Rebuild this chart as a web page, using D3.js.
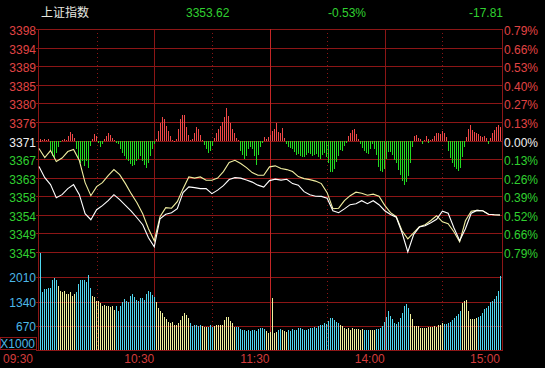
<!DOCTYPE html>
<html>
<head>
<meta charset="utf-8">
<script src="https://cdn.jsdelivr.net/npm/d3@7/dist/d3.min.js"></script>
<style>
  html, body { margin: 0; padding: 0; background: #000; }
  svg { display: block; }
  text { font-family: "Liberation Sans", Arial, "Noto Sans CJK SC", sans-serif; font-size: 12px; }
</style>
</head>
<body>
<div id="chart"></div>
<script>
// quote header
var indexName  = "上证指数";
var preClose   = 3371.43;
var lastPrice  = "3353.62";
var lastPct    = "-0.53%";
var lastChange = "-17.81";
var maxPct     = 0.79;

// axis labels
var priceLabels = ["3398", "3394", "3389", "3385", "3380", "3376", "3371", "3367", "3363", "3358", "3354", "3349", "3345"];
var pctLabels   = ["0.79%", "0.66%", "0.53%", "0.40%", "0.27%", "0.13%", "0.00%", "0.13%", "0.26%", "0.39%", "0.52%", "0.66%", "0.79%"];
var volTicks    = [2010, 1340, 670];
var volMax      = 2680;
var timeLabels  = ["09:30", "10:30", "11:30", "14:00", "15:00"];
var timeMinutes = [0, 60, 120, 180, 240];
var solidMinutes  = [60, 180];
var lunchMinute   = 120;
var dottedMinutes = [30, 90, 150, 210];

// price lines, one reading every 3 trading minutes
var lineMinutes = d3.range(0, 241, 3);

var priceWhite = [
  3365.20, 3362.56, 3360.89, 3357.77, 3358.49, 3359.93, 3360.89, 3358.49, 3353.94, 3352.50,
  3354.90, 3355.86, 3357.05, 3358.49, 3357.29, 3355.93, 3354.54, 3352.98, 3351.30, 3348.19,
  3346.03, 3352.74, 3353.82, 3354.18, 3355.14, 3358.97, 3360.34, 3360.17, 3359.93, 3359.93,
  3358.73, 3359.57, 3360.65, 3362.09, 3362.56, 3362.44, 3361.97, 3361.49, 3360.77, 3360.29,
  3361.85, 3362.21, 3361.97, 3362.16, 3361.13, 3360.77, 3359.21, 3358.49, 3358.13, 3358.08,
  3357.65, 3354.66, 3354.18, 3355.09, 3356.10, 3356.34, 3357.05, 3356.34, 3357.05, 3356.10,
  3354.66, 3353.77, 3353.10, 3349.39, 3344.83, 3348.91, 3350.75, 3351.06, 3351.78, 3352.62,
  3354.54, 3354.06, 3350.58, 3347.47, 3350.34, 3354.06, 3354.73, 3354.66, 3353.82, 3353.70,
  3353.62
];

var priceYellow = [
  3369.51, 3367.36, 3369.03, 3366.40, 3367.24, 3368.79, 3369.27, 3366.64, 3361.37, 3358.25,
  3360.41, 3361.37, 3363.04, 3364.48, 3363.28, 3361.13, 3358.73, 3356.57, 3353.94, 3350.34,
  3347.47, 3353.22, 3355.38, 3355.26, 3356.81, 3359.93, 3362.73, 3362.44, 3362.73, 3361.92,
  3361.92, 3362.44, 3364.00, 3366.16, 3366.71, 3365.92, 3364.96, 3363.76, 3363.12, 3363.12,
  3365.13, 3365.37, 3364.72, 3364.48, 3364.00, 3362.80, 3362.33, 3362.09, 3361.73, 3361.13,
  3358.97, 3355.14, 3355.26, 3357.05, 3358.25, 3359.09, 3358.85, 3358.37, 3358.61, 3358.13,
  3355.93, 3354.18, 3353.22, 3349.87, 3347.95, 3349.39, 3350.82, 3351.30, 3352.33, 3353.46,
  3352.02, 3351.54, 3349.63, 3347.23, 3352.26, 3354.54, 3354.73, 3354.66, 3353.82, 3353.70,
  3353.62
];

// red / green strength bars, one per minute (up = red)
var strength = [
    0,   2,   1,   2,   1,   2, -10, -15, -17, -12,
   -6,  -1,   1,   2,   1,   5,   9,   7,   3,  -8,
  -18, -22, -20, -25, -20, -27, -15,  -5,   2,   7,
    5,  -2,  -6,  -3,   2,   5,   8,   6,   3,   1,
   -2,  -3,  -8, -12, -15, -18, -20, -23, -25, -24,
  -20, -17, -18, -15, -20, -24, -27, -22, -15,  -8,
   -3,   2,  10,  18,  24,  22,  15,  10,   5,   1,
    0,   2,  12,  22,  26,  26,  21,  14,   6,   1,
    2,   8,  14,  12,   6,   1,  -4,  -8, -12, -10,
   -5,   3,   8,  12,  15,  19,  24,  33,  25,  18,
   12,   8,   5,   3,   1, -10, -14, -18, -15,  -8,
   -6,  -8, -15, -24, -14,  -6,  -2,   4,   2,   4,
    6,  10,  12,  18,   9,   8,  13,   9,   3,  -3,
   -6,  -7,  -8, -11, -14, -13, -15, -16, -16, -14,
  -12, -13, -15, -14, -13, -16, -18, -14, -12, -16,
  -22, -28, -31, -31, -28, -21, -15,  -9, -10,  -5,
   -2,   5,   8,  11,  12,   7,   2,  -3,  -7, -10,
  -12, -13,  -8,  -3,  -8, -14, -19, -26, -30, -31,
  -28, -18, -11, -11, -14, -19, -22, -29, -34, -40,
  -44, -41, -35, -22,  -6,   5,   6,   3,   2,  -3,
    1,   5,   2,  -2,   1,   2,   5,   8,   8,   7,
   10,   8,   4, -10, -17, -22, -26, -28, -30, -27,
  -16,  -6,   4,  12,  16,  11,   9,   8,   5,   7,
    5,   4,   5,   3,  -3,   3,   8,  11,  14,  16,
   14
];

// volume per minute, x1000
var volume = [
  1176, 2680, 1596, 1680, 1680, 1708, 1708, 1932, 1988, 1932,
  1764, 1624, 1596, 1624, 1540, 1540, 1596, 1484, 1540, 1596,
  1820, 1932, 1932, 1932, 1876, 2072, 1876, 1708, 1484, 1456,
  1344, 1344, 1288, 1204, 1232, 1204, 1204, 1176, 1204, 1092,
  1204, 1064, 1204, 1316, 1400, 1344, 1316, 1484, 1540, 1456,
  1372, 1344, 1344, 1428, 1428, 1372, 1540, 1624, 1596, 1512,
  1456, 1316, 1148, 1064, 1036,  924,  868,  784,  756,  784,
   700,  700,  756,  840,  952, 1036, 1036,  980,  896,  756,
   672,  700,  700,  672,  700,  672,  644,  644,  644,  700,
   644,  672,  700,  700,  700,  700,  840,  924,  924,  812,
   756,  644,  644,  644,  644,  588,  560,  560,  532,  560,
   532,  560,  560,  532,  588,  616,  616,  588,  532,  476,
   504, 1428,  476,  504,  560,  588,  560,  560,  532,  504,
   560,  532,  588,  560,  560,  616,  616,  588,  560,  560,
   588,  616,  616,  644,  616,  672,  700,  700,  756,  728,
   812,  868,  896,  896,  840,  784,  756,  700,  672,  616,
   588,  616,  560,  616,  588,  588,  588,  560,  588,  560,
   560,  560,  560,  560,  560,  588,  588,  560,  616,  672,
   784,  924, 1064,  952,  868,  756,  728,  784,  896, 1036,
  1204, 1260, 1148, 1008,  868,  672,  672,  672,  616,  616,
   616,  616,  616,  644,  644,  644,  672,  644,  700,  700,
   756,  728,  728,  756,  784,  840,  896,  952, 1008, 1064,
  1288, 1344, 1372, 1064,  868,  868,  868,  840,  896,  924,
   952, 1036, 1120, 1148, 1204, 1316, 1344, 1400, 1484, 1624,
  2044
];

var colors = {
  grid:     "#8c1616",
  lunch:    "#c42626",
  up:       "#e04444",
  down:     "#30d030",
  barUp:    "#f04848",
  barDown:  "#22dc22",
  flat:     "#f0f0f0",
  white:    "#ffffff",
  yellow:   "#f0eea0",
  volUp:    "#f0f09c",
  volDown:  "#50d8f0",
  volLabel: "#4cb8e8",
  time:     "#d23c3c",
  name:     "#e8e8e0"
};

var width  = 545;
var height = 368;
var plotLeft   = 38;
var plotRight  = 501.5;
var priceTop   = 29;
var priceBot   = 252;
var volTop     = 253;
var volBot     = 350;

var svg = d3.select("#chart").append("svg").attr("width", width).attr("height", height);

svg.append("rect").attr("width", width).attr("height", height).attr("fill", "#000");

var x      = d3.scaleLinear().domain([0, 240]).range([39, 500]);
var half   = preClose*maxPct/100;
var y      = d3.scaleLinear().domain([preClose - half, preClose + half]).range([priceBot, priceTop]);
var yMid   = Math.round(y(preClose));
var ys     = d3.scaleLinear().domain([-60, 60]).range([yMid + 60, yMid - 60]);
var yv     = d3.scaleLinear().domain([0, volMax]).range([volBot, volTop]);

function crisp(v) { return Math.round(v) + 0.5; }

// one pixel bars sit on even columns so thin colours survive the photo
function barX(i) { return 2*Math.round(x(i)/2); }

function labelColor(i, n)
{
  var c = (n - 1)/2;
  if (i < c) return colors.up;
  if (i > c) return colors.down;
  return colors.flat;
}

// grid
var grid = svg.append("g").attr("shape-rendering", "crispEdges");

var priceLevels = d3.range(priceLabels.length).map(function (i) { return preClose + half - i*half*2/(priceLabels.length - 1); });

grid.selectAll(".hp").data(priceLevels).enter().append("line")
  .attr("x1", plotLeft - 2).attr("x2", plotRight)
  .attr("y1", function (d) { return crisp(y(d)); })
  .attr("y2", function (d) { return crisp(y(d)); })
  .attr("stroke", colors.grid);

grid.selectAll(".hv").data(volTicks.concat([0])).enter().append("line")
  .attr("x1", plotLeft - 2).attr("x2", plotRight)
  .attr("y1", function (d) { return crisp(yv(d)); })
  .attr("y2", function (d) { return crisp(yv(d)); })
  .attr("stroke", colors.grid);

grid.selectAll(".vs").data(solidMinutes).enter().append("line")
  .attr("x1", function (d) { return crisp(x(d)); })
  .attr("x2", function (d) { return crisp(x(d)); })
  .attr("y1", priceTop).attr("y2", volBot)
  .attr("stroke", colors.grid);

grid.selectAll(".vd").data(dottedMinutes).enter().append("line")
  .attr("x1", function (d) { return crisp(x(d)); })
  .attr("x2", function (d) { return crisp(x(d)); })
  .attr("y1", priceTop).attr("y2", volBot)
  .attr("stroke", colors.grid)
  .attr("stroke-dasharray", "1,3");

grid.append("line")
  .attr("x1", crisp(plotLeft)).attr("x2", crisp(plotLeft))
  .attr("y1", priceTop).attr("y2", volBot + 1)
  .attr("stroke", colors.grid);

grid.append("line")
  .attr("x1", crisp(plotRight)).attr("x2", crisp(plotRight))
  .attr("y1", priceTop).attr("y2", volBot + 1)
  .attr("stroke", colors.grid);

grid.append("line")
  .attr("x1", crisp(x(lunchMinute))).attr("x2", crisp(x(lunchMinute)))
  .attr("y1", priceTop).attr("y2", volBot)
  .attr("stroke", colors.lunch);

// red / green strength bars
svg.append("g").attr("shape-rendering", "crispEdges")
  .selectAll("rect").data(strength).enter().append("rect")
  .attr("x", function (d, i) { return barX(i); })
  .attr("width", 1)
  .attr("y", function (d) { return Math.round(Math.min(ys(d), yMid)); })
  .attr("height", function (d) { return Math.max(1, Math.round(Math.abs(ys(d) - yMid))); })
  .attr("fill", function (d) { return d >= 0 ? colors.barUp : colors.barDown; });

// price lines
var line = d3.line()
  .x(function (d, i) { return x(lineMinutes[i]); })
  .y(function (d) { return y(d); });

svg.append("path").datum(priceYellow)
  .attr("d", line).attr("fill", "none")
  .attr("stroke", colors.yellow).attr("stroke-width", 1.1);

svg.append("path").datum(priceWhite)
  .attr("d", line).attr("fill", "none")
  .attr("stroke", colors.white).attr("stroke-width", 1.1);

// volume bars, coloured by the direction of the index line
function volColor(i)
{
  var k = Math.min(Math.ceil(i/3), priceWhite.length - 1);
  var j = Math.max(k - 1, 0);
  return priceWhite[k] >= priceWhite[j] ? colors.volUp : colors.volDown;
}

svg.append("g").attr("shape-rendering", "crispEdges")
  .selectAll("rect").data(volume).enter().append("rect")
  .attr("x", function (d, i) { return barX(i); })
  .attr("width", 1)
  .attr("y", function (d) { return Math.round(yv(d)); })
  .attr("height", function (d) { return volBot - Math.round(yv(d)); })
  .attr("fill", function (d, i) { return volColor(i); });

// left price labels
svg.selectAll(".pl").data(priceLabels).enter().append("text")
  .attr("x", 36)
  .attr("y", function (d, i) { return y(priceLevels[i]) + 6; })
  .attr("text-anchor", "end")
  .attr("fill", function (d, i) { return labelColor(i, priceLabels.length); })
  .text(function (d) { return d; });

// right percent labels
svg.selectAll(".rl").data(pctLabels).enter().append("text")
  .attr("x", 504)
  .attr("y", function (d, i) { return y(priceLevels[i]) + 6; })
  .attr("fill", function (d, i) { return labelColor(i, pctLabels.length); })
  .text(function (d) { return d; });

// volume labels
svg.selectAll(".vl").data(volTicks).enter().append("text")
  .attr("x", 36)
  .attr("y", function (d) { return yv(d) + 5; })
  .attr("text-anchor", "end")
  .attr("fill", colors.volLabel)
  .text(function (d) { return d; });

svg.append("rect")
  .attr("x", 0.5).attr("y", 337.5).attr("width", 36).attr("height", 12)
  .attr("fill", "none").attr("stroke", colors.grid);

svg.append("text")
  .attr("x", 35).attr("y", 348)
  .attr("text-anchor", "end")
  .attr("fill", colors.volLabel)
  .text("X1000");

// time labels
svg.selectAll(".tl").data(timeLabels).enter().append("text")
  .attr("x", function (d, i) { return i == 0 ? 33 : x(timeMinutes[i]); })
  .attr("y", 363)
  .attr("text-anchor", "end")
  .attr("fill", colors.time)
  .text(function (d) { return d; });

// header
svg.append("text").attr("x", 41).attr("y", 17).attr("fill", colors.name).text(indexName);
svg.append("text").attr("x", 186).attr("y", 17).attr("fill", colors.down).text(lastPrice);
svg.append("text").attr("x", 328).attr("y", 17).attr("fill", colors.down).text(lastPct);
svg.append("text").attr("x", 469).attr("y", 17).attr("fill", colors.down).text(lastChange);
</script>
</body>
</html>
